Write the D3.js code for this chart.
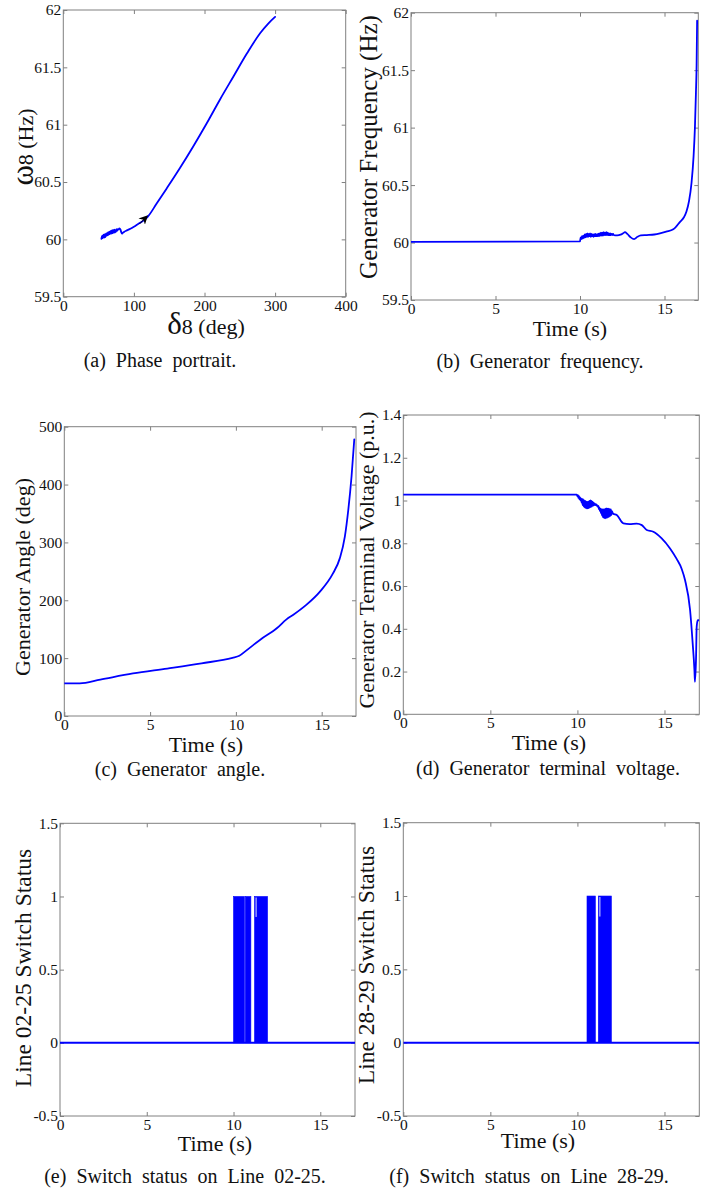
<!DOCTYPE html>
<html>
<head>
<meta charset="utf-8">
<script src="https://cdn.jsdelivr.net/npm/d3@7"></script>
<style>
  html, body { margin: 0; padding: 0; background: #fff; }
  svg { display: block; }
  text { font-family: "Liberation Serif", "Times New Roman", serif; fill: #111; }
</style>
</head>
<body>
<svg id="chart" width="720" height="1193"></svg>
<script>
// ---------------- DATA ----------------
// (a) Phase portrait: rotor angle (deg) vs. speed (Hz)
const phaseDelta = [54, 55, 56, 57, 58, 58.8, 59.5, 60.3, 61, 61.8, 62.5, 63.3, 64, 64.8, 65.5, 66.3, 67, 67.8, 68.5, 69.3, 70, 70.8, 71.5, 72.3, 73, 73.8, 74.5, 75.3, 76, 77, 78, 79.5, 81, 82, 83, 84, 86, 90, 95, 100, 105, 110, 115, 120, 132, 146, 165, 184, 203, 222, 241, 260, 279, 290, 300];
const phaseOmega = [60.005, 60.03, 60.01, 60.04, 60.015, 60.045, 60.02, 60.05, 60.03, 60.055, 60.035, 60.06, 60.04, 60.065, 60.045, 60.07, 60.05, 60.075, 60.05, 60.08, 60.055, 60.08, 60.06, 60.085, 60.06, 60.08, 60.065, 60.09, 60.075, 60.09, 60.085, 60.095, 60.085, 60.065, 60.05, 60.055, 60.065, 60.078, 60.092, 60.11, 60.13, 60.15, 60.17, 60.2, 60.31, 60.44, 60.62, 60.81, 61.01, 61.22, 61.42, 61.62, 61.80, 61.88, 61.94];
const phaseArrowFrom = [108, 60.135];
const phaseArrowTo = [119, 60.205];

// (b) Generator frequency
const freqTime = [0, 10.0, 10.04, 10.08, 10.12, 10.16, 10.2, 10.24, 10.28, 10.32, 10.36, 10.4, 10.44, 10.48, 10.52, 10.56, 10.6, 10.64, 10.68, 10.72, 10.76, 10.8, 10.84, 10.88, 10.92, 10.96, 11.0, 11.04, 11.08, 11.12, 11.16, 11.2, 11.24, 11.28, 11.32, 11.36, 11.4, 11.44, 11.48, 11.52, 11.56, 11.6, 11.64, 11.68, 11.72, 11.76, 11.8, 11.84, 11.88, 11.92, 11.96, 12.0, 12.2, 12.4, 12.55, 12.66, 12.8, 13.0, 13.2, 13.4, 13.6, 13.95, 14.4, 14.73, 15.1, 15.52, 15.92, 16.15, 16.3, 16.45, 16.6, 16.72, 16.8, 16.86, 16.9, 16.93];
const freqValue = [60.005, 60.01, 60.045, 60.03, 60.055, 60.035, 60.06, 60.04, 60.07, 60.045, 60.075, 60.05, 60.08, 60.05, 60.075, 60.055, 60.08, 60.05, 60.075, 60.055, 60.07, 60.05, 60.072, 60.055, 60.075, 60.055, 60.07, 60.055, 60.078, 60.055, 60.08, 60.06, 60.085, 60.06, 60.085, 60.06, 60.09, 60.065, 60.085, 60.065, 60.09, 60.065, 60.085, 60.065, 60.08, 60.065, 60.08, 60.065, 60.075, 60.065, 60.075, 60.065, 60.063, 60.068, 60.08, 60.09, 60.075, 60.045, 60.03, 60.05, 60.062, 60.065, 60.07, 60.08, 60.095, 60.115, 60.18, 60.22, 60.27, 60.36, 60.52, 60.75, 61.0, 61.3, 61.55, 61.93];

// (c) Generator angle
const angleTime = [0, 0.9, 2.1, 4, 6, 8, 9.8, 10.2, 10.6, 11.4, 12.4, 12.95, 13.35, 14.1, 14.9, 15.65, 16.05, 16.35, 16.55, 16.74, 16.9];
const angleValue = [56.5, 56.5, 63, 73.5, 82, 91, 100.5, 104, 113, 131.5, 152, 167, 175, 192, 215, 246, 272, 310, 356, 414, 478];

// (d) Generator terminal voltage
const voltTime = [0, 9.96, 10.0, 10.03, 10.06, 10.09, 10.12, 10.15, 10.18, 10.21, 10.24, 10.27, 10.3, 10.33, 10.36, 10.39, 10.42, 10.45, 10.48, 10.51, 10.54, 10.57, 10.6, 10.63, 10.66, 10.69, 10.72, 10.75, 10.78, 10.81, 10.84, 10.87, 10.9, 10.93, 10.96, 11.0, 11.05, 11.1, 11.15, 11.2, 11.23, 11.26, 11.29, 11.32, 11.35, 11.38, 11.41, 11.44, 11.47, 11.5, 11.53, 11.56, 11.59, 11.62, 11.65, 11.68, 11.71, 11.74, 11.77, 11.8, 11.83, 11.86, 11.89, 11.92, 11.95, 11.98, 12.05, 12.26, 12.64, 13.0, 13.4, 13.7, 13.98, 14.36, 14.84, 15.32, 15.7, 15.99, 16.18, 16.47, 16.62, 16.72, 16.75, 16.81, 16.85, 16.91, 16.96];
const voltValue = [1.028, 1.028, 1.02, 1.025, 1.012, 1.02, 1.005, 1.015, 1.0, 1.01, 0.99, 1.008, 0.978, 1.005, 0.972, 1.0, 0.968, 0.998, 0.965, 0.995, 0.963, 0.993, 0.963, 0.995, 0.965, 0.998, 0.968, 1.0, 0.97, 0.998, 0.972, 0.995, 0.975, 0.99, 0.978, 0.985, 0.978, 0.982, 0.972, 0.975, 0.96, 0.968, 0.95, 0.962, 0.94, 0.96, 0.93, 0.958, 0.922, 0.958, 0.918, 0.96, 0.917, 0.962, 0.918, 0.963, 0.92, 0.962, 0.922, 0.962, 0.925, 0.96, 0.928, 0.958, 0.932, 0.95, 0.938, 0.932, 0.893, 0.89, 0.892, 0.885, 0.862, 0.854, 0.823, 0.776, 0.727, 0.68, 0.628, 0.488, 0.332, 0.207, 0.152, 0.254, 0.41, 0.44, 0.44];

// (e) Switch status Line 02-25: intervals of rapid switching (0 <-> 1)
const sw0225Blocks = [[10.0, 10.63], [10.68, 11.0], [11.21, 11.96]];
const sw0225Notch = [11.3, 0.86];
// (f) Switch status Line 28-29
const sw2829Blocks = [[10.55, 11.03], [11.2, 11.95]];
const sw2829Notch = [11.29, 0.86];
const simEnd = 17;

// tick values
const ticksDelta = [0, 100, 200, 300, 400];
const ticksTime = [0, 5, 10, 15];
const ticksFreq = [59.5, 60, 60.5, 61, 61.5, 62];
const ticksAngle = [0, 100, 200, 300, 400, 500];
const ticksVolt = [0, 0.2, 0.4, 0.6, 0.8, 1, 1.2, 1.4];
const ticksSwitch = [-0.5, 0, 0.5, 1, 1.5];

// ---------------- DRAWING ----------------
const svg = d3.select('#chart');
const BLUE = '#0000ff';
const FRAME = '#808080';
const SERIF = '"Liberation Serif", "Times New Roman", serif';
let clipId = 0;

function panel(o) {
  const x = d3.scaleLinear().domain(o.xDomain).range([o.left, o.right]);
  const y = d3.scaleLinear().domain(o.yDomain).range([o.bottom, o.top]);
  const g = svg.append('g');
  const id = 'clip' + (clipId++);
  g.append('clipPath').attr('id', id).append('rect')
    .attr('x', o.left).attr('y', o.top).attr('width', o.right - o.left).attr('height', o.bottom - o.top);

  const fmt = d => String(d);
  const styleAxis = sel => {
    sel.attr('font-family', SERIF).attr('font-size', 15.5);
    sel.select('.domain').remove();
    sel.selectAll('.tick line').attr('stroke', FRAME).attr('stroke-width', 1);
    sel.selectAll('.tick text').attr('fill', '#111').style('font-size', '15.5px')
      .style('font-family', SERIF);
  };
  g.append('g').attr('transform', `translate(0,${o.bottom})`)
    .call(d3.axisBottom(x).tickValues(o.xTicks).tickSize(-4).tickPadding(3).tickFormat(fmt)).call(styleAxis);
  g.append('g').attr('transform', `translate(0,${o.top})`)
    .call(d3.axisTop(x).tickValues(o.xTicks).tickSize(-4).tickFormat('')).call(styleAxis);
  g.append('g').attr('transform', `translate(${o.left},0)`)
    .call(d3.axisLeft(y).tickValues(o.yTicks).tickSize(-4).tickPadding(2).tickFormat(fmt)).call(styleAxis);
  g.append('g').attr('transform', `translate(${o.right},0)`)
    .call(d3.axisRight(y).tickValues(o.yTicks).tickSize(-4).tickFormat('')).call(styleAxis);

  g.append('rect').attr('x', o.left).attr('y', o.top)
    .attr('width', o.right - o.left).attr('height', o.bottom - o.top)
    .attr('fill', 'none').attr('stroke', FRAME).attr('stroke-width', 1);

  const plot = g.append('g').attr('clip-path', `url(#${id})`);

  // x label
  const xl = g.append('text').attr('x', o.xLabelX).attr('y', o.xLabelY)
    .attr('text-anchor', 'middle').style('font-size', '22px');
  if (o.xGreek) xl.append('tspan').text(o.xGreek).style('font-size', '31px');
  xl.append('tspan').text(o.xLabel);

  // y label
  const yl = g.append('text')
    .attr('transform', `translate(${o.yLabelX},${o.yLabelY}) rotate(-90)`)
    .attr('text-anchor', 'middle').style('font-size', (o.yLabelSize || 22) + 'px');
  if (o.yGreek) yl.append('tspan').text(o.yGreek).style('font-size', '31px');
  yl.append('tspan').text(o.yLabel);

  // caption
  svg.append('text').attr('x', o.capX).attr('y', o.capY).attr('text-anchor', 'middle')
    .style('font-size', '20px').style('word-spacing', '5px').text(o.caption);

  return {x, y, plot};
}

function drawLine(p, xs, ys, w) {
  const pts = xs.map((d, i) => [d, ys[i]]);
  p.plot.append('path').datum(pts)
    .attr('d', d3.line().x(d => p.x(d[0])).y(d => p.y(d[1])).curve(d3.curveMonotoneX))
    .attr('fill', 'none').attr('stroke', BLUE).attr('stroke-width', w || 1.8)
    .attr('stroke-linejoin', 'round').attr('stroke-linecap', 'round');
}

function drawSwitch(p, blocks, notch) {
  p.plot.selectAll('rect.blk').data(blocks).enter().append('rect')
    .attr('class', 'blk')
    .attr('x', d => p.x(d[0])).attr('width', d => p.x(d[1]) - p.x(d[0]))
    .attr('y', p.y(1)).attr('height', p.y(0) - p.y(1))
    .attr('fill', BLUE).attr('stroke', BLUE).attr('stroke-width', 0.6);
  p.plot.append('line')
    .attr('x1', p.x(notch[0])).attr('x2', p.x(notch[0]))
    .attr('y1', p.y(1) + 1).attr('y2', p.y(notch[1]))
    .attr('stroke', '#dfe3ff').attr('stroke-width', 1);
  p.plot.append('line')
    .attr('x1', p.x(0)).attr('x2', p.x(simEnd))
    .attr('y1', p.y(0)).attr('y2', p.y(0))
    .attr('stroke', BLUE).attr('stroke-width', 2);
}

// (a)
const pa = panel({left: 63.3, right: 345.7, top: 10, bottom: 296.7,
  xDomain: [0, 400], yDomain: [59.5, 62], xTicks: ticksDelta, yTicks: ticksFreq,
  xGreek: 'δ', xLabel: '8 (deg)', xLabelX: 206, xLabelY: 334,
  yGreek: 'ω', yLabel: '8 (Hz)', yLabelX: 33, yLabelY: 147,
  caption: '(a) Phase portrait.', capX: 160, capY: 367});
drawLine(pa, phaseDelta, phaseOmega, 1.8);
svg.append('defs').append('marker').attr('id', 'arrowhead')
  .attr('viewBox', '0 0 10 10').attr('refX', 9).attr('refY', 5)
  .attr('markerWidth', 9).attr('markerHeight', 9).attr('orient', 'auto')
  .attr('markerUnits', 'userSpaceOnUse')
  .append('path').attr('d', 'M0,0 L10,5 L0,10 L3,5 Z').attr('fill', '#000');
pa.plot.append('line')
  .attr('x1', pa.x(phaseArrowFrom[0])).attr('y1', pa.y(phaseArrowFrom[1]))
  .attr('x2', pa.x(phaseArrowTo[0])).attr('y2', pa.y(phaseArrowTo[1]))
  .attr('stroke', '#000').attr('stroke-width', 1).attr('marker-end', 'url(#arrowhead)');

// (b)
const pb = panel({left: 411, right: 698.3, top: 12.7, bottom: 300,
  xDomain: [0, 17], yDomain: [59.5, 62], xTicks: ticksTime, yTicks: ticksFreq,
  xLabel: 'Time (s)', xLabelX: 570, xLabelY: 336,
  yLabel: 'Generator Frequency (Hz)', yLabelX: 377, yLabelY: 147, yLabelSize: 25,
  caption: '(b) Generator frequency.', capX: 540, capY: 368});
drawLine(pb, freqTime, freqValue, 1.8);

// (c)
const pc = panel({left: 64.3, right: 356, top: 426.7, bottom: 716,
  xDomain: [0, 17], yDomain: [0, 500], xTicks: ticksTime, yTicks: ticksAngle,
  xLabel: 'Time (s)', xLabelX: 206, xLabelY: 752,
  yLabel: 'Generator Angle (deg)', yLabelX: 30, yLabelY: 577,
  caption: '(c) Generator angle.', capX: 180, capY: 776});
drawLine(pc, angleTime, angleValue, 1.8);

// (d)
const pd = panel({left: 403.3, right: 699.3, top: 415, bottom: 714.3,
  xDomain: [0, 17], yDomain: [0, 1.4], xTicks: ticksTime, yTicks: ticksVolt,
  xLabel: 'Time (s)', xLabelX: 549, xLabelY: 750,
  yLabel: 'Generator Terminal Voltage (p.u.)', yLabelX: 374, yLabelY: 560,
  caption: '(d) Generator terminal voltage.', capX: 548, capY: 775});
drawLine(pd, voltTime, voltValue, 1.8);

// (e)
const pe = panel({left: 60, right: 355, top: 823.3, bottom: 1116,
  xDomain: [0, 17], yDomain: [-0.5, 1.5], xTicks: ticksTime, yTicks: ticksSwitch,
  xLabel: 'Time (s)', xLabelX: 215, xLabelY: 1151,
  yLabel: 'Line 02-25 Switch Status', yLabelX: 31, yLabelY: 968, yLabelSize: 23.5,
  caption: '(e) Switch status on Line 02-25.', capX: 185, capY: 1183});
drawSwitch(pe, sw0225Blocks, sw0225Notch);

// (f)
const pf = panel({left: 403.3, right: 699.3, top: 822.7, bottom: 1116,
  xDomain: [0, 17], yDomain: [-0.5, 1.5], xTicks: ticksTime, yTicks: ticksSwitch,
  xLabel: 'Time (s)', xLabelX: 538, xLabelY: 1148,
  yLabel: 'Line 28-29 Switch Status', yLabelX: 374, yLabelY: 965, yLabelSize: 23.5,
  caption: '(f) Switch status on Line 28-29.', capX: 529, capY: 1183});
drawSwitch(pf, sw2829Blocks, sw2829Notch);
</script>
</body>
</html>
